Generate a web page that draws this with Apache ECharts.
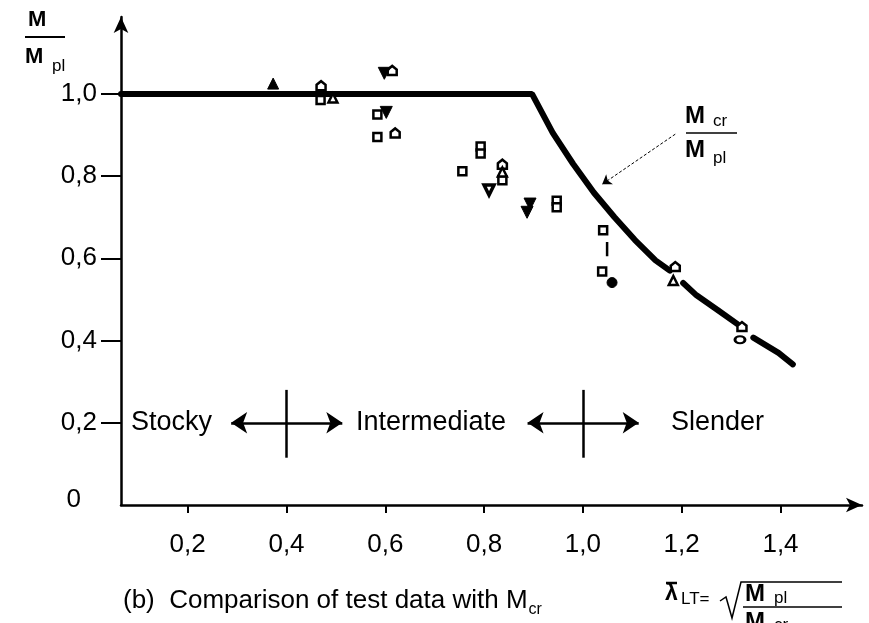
<!DOCTYPE html>
<html>
<head>
<meta charset="utf-8">
<script src="https://cdn.jsdelivr.net/npm/echarts@6/dist/echarts.min.js"></script>
<style>
html, body { margin: 0; padding: 0; background: #fff; }
#chart { width: 869px; height: 623px; }
</style>
</head>
<body>
<div id="chart"></div>
<script>
// x values are read against the printed 0,2 ... 1,4 labels
const xTicks = [0.2, 0.4, 0.6, 0.8, 1.0, 1.2, 1.4];
const yTicks = [0, 0.2, 0.4, 0.6, 0.8, 1.0];
const xMin = 0.065;
const xMax = 1.565;

// design curve: plateau at 1.0, then Mcr/Mpl; broken where test markers sit on it
const curveA = [[0.065, 1.0], [0.897, 1.0], [0.939, 0.905], [0.98, 0.83], [1.022, 0.76], [1.064, 0.70], [1.105, 0.645], [1.147, 0.595], [1.176, 0.57]];
const curveB = [[1.203, 0.54], [1.23, 0.51], [1.272, 0.475], [1.313, 0.44]];
const curveC = [[1.345, 0.407], [1.396, 0.37], [1.425, 0.342]];

// test results, grouped by marker
const openSquare = [[0.469, 0.985], [0.584, 0.95], [0.584, 0.895], [0.793, 0.872], [0.793, 0.855], [0.756, 0.812], [0.837, 0.79], [0.947, 0.74], [0.947, 0.724], [1.041, 0.668], [1.039, 0.568]];
const openHouse = [[0.47, 1.02], [0.614, 1.057], [0.62, 0.905], [0.837, 0.829], [1.187, 0.58], [1.322, 0.434]];
const openTriangle = [[0.494, 0.99], [0.837, 0.81], [1.183, 0.546]];
const filledDown = [[0.598, 1.05], [0.602, 0.955], [0.893, 0.732], [0.887, 0.712]];
const openDown = [[0.81, 0.766]];
const filledUp = [[0.373, 1.025]];
const filledCircle = [[1.059, 0.541]];
const openOval = [[1.318, 0.402]];
const rangeBar = [[1.049, 0.64], [1.049, 0.605]];

// stocky / intermediate / slender limits
const regionLimits = [0.4, 1.0];
const regionY = 0.2;

const INK = '#000';
const FONT = 'Liberation Sans, Arial, sans-serif';

const chart = echarts.init(document.getElementById('chart'));

function curve(data) {
    return {
        type: 'line', data: data, symbol: 'none', silent: true,
        lineStyle: { color: INK, width: 6, cap: 'round' }, z: 2
    };
}

function marks(data, symbol, size, filled, border) {
    return {
        type: 'scatter', data: data, symbol: symbol, symbolSize: size, z: 5,
        itemStyle: filled
            ? { color: INK, borderColor: INK, borderWidth: 1, opacity: 1 }
            : { color: '#fff', borderColor: INK, borderWidth: border || 2.5, opacity: 1 }
    };
}

const HOUSE = 'path://M0,4 L5,0 L10,4 L10,10 L0,10 Z';
const DOWN = 'path://M0,0 L10,0 L5,9 Z';

const regionLines = [];
regionLimits.forEach(function (v) {
    regionLines.push([
        { coord: [v - 0.112, regionY], symbol: 'arrow' },
        { coord: [v + 0.113, regionY], symbol: 'arrow' }
    ]);
    regionLines.push([
        { coord: [v, 0.28], symbol: 'none' },
        { coord: [v, 0.115], symbol: 'none' }
    ]);
});

chart.setOption({
    animation: false,
    grid: { left: 121, right: 7, top: 17, bottom: 118 },
    xAxis: {
        type: 'value', min: xMin, max: xMax,
        splitLine: { show: false },
        axisLine: { lineStyle: { color: INK, width: 2.5 }, symbol: ['none', 'arrow'], symbolSize: [11, 16] },
        axisTick: { customValues: xTicks, length: 8, lineStyle: { color: INK, width: 2 } },
        axisLabel: {
            customValues: xTicks, margin: 27, color: INK, fontSize: 26, fontFamily: FONT,
            formatter: function (v) { return v.toFixed(1).replace('.', ','); }
        }
    },
    yAxis: {
        type: 'value', min: 0, max: 1.187,
        splitLine: { show: false },
        axisLine: { lineStyle: { color: INK, width: 2.5 }, symbol: ['none', 'arrow'], symbolSize: [11, 16] },
        axisTick: { customValues: yTicks.slice(1), length: 20, lineStyle: { color: INK, width: 2 } },
        axisLabel: {
            customValues: yTicks, margin: 24, color: INK, fontSize: 26, fontFamily: FONT,
            formatter: function (v) { return v === 0 ? '{z|0}' : v.toFixed(1).replace('.', ','); },
            rich: { z: { fontSize: 26, fontFamily: FONT, color: INK, padding: [0, 16, 10, 0] } }
        }
    },
    series: [
        Object.assign(curve(curveA), {
            markLine: {
                silent: true, symbol: ['none', 'arrow'], symbolSize: 9,
                label: { show: false },
                lineStyle: { color: INK, width: 1, type: [3, 2] },
                data: [[{ coord: [1.187, 0.902] }, { coord: [1.039, 0.78] }]]
            }
        }),
        curve(curveB),
        curve(curveC),
        {
            type: 'line', data: rangeBar, symbol: 'none', silent: true,
            lineStyle: { color: INK, width: 2.5 }
        },
        marks(openSquare, 'rect', 8, false),
        marks(openHouse, HOUSE, 9, false),
        marks(openTriangle, 'triangle', 9, false),
        marks(filledDown, DOWN, 12, true),
        marks(openDown, DOWN, 10, false, 3.5),
        marks(filledUp, 'triangle', 11, true),
        marks(filledCircle, 'circle', 10, true),
        marks(openOval, 'circle', [10, 7], false),
        {
            type: 'line', data: [], silent: true,
            markLine: {
                silent: true, symbolSize: 16, label: { show: false },
                lineStyle: { color: INK, width: 2.5, type: 'solid' },
                data: regionLines
            }
        }
    ],
    graphic: [
        // y axis name M / Mpl
        { type: 'text', left: 28, top: 9, style: { text: 'M', font: 'bold 22px ' + FONT, fill: INK } },
        { type: 'line', shape: { x1: 25, y1: 37, x2: 65, y2: 37 }, style: { stroke: INK, lineWidth: 2 } },
        { type: 'text', left: 25, top: 46, style: { text: 'M', font: 'bold 22px ' + FONT, fill: INK } },
        { type: 'text', left: 52, top: 58, style: { text: 'pl', font: '17px ' + FONT, fill: INK } },
        // curve label Mcr / Mpl
        { type: 'text', left: 685, top: 104, style: { text: 'M', font: 'bold 24px ' + FONT, fill: INK } },
        { type: 'text', left: 713, top: 113, style: { text: 'cr', font: '17px ' + FONT, fill: INK } },
        { type: 'line', shape: { x1: 686, y1: 133, x2: 737, y2: 133 }, style: { stroke: INK, lineWidth: 1.5 } },
        { type: 'text', left: 685, top: 138, style: { text: 'M', font: 'bold 24px ' + FONT, fill: INK } },
        { type: 'text', left: 713, top: 150, style: { text: 'pl', font: '17px ' + FONT, fill: INK } },
        // region names
        { type: 'text', left: 131, top: 409, style: { text: 'Stocky', font: '27px ' + FONT, fill: INK } },
        { type: 'text', left: 356, top: 409, style: { text: 'Intermediate', font: '27px ' + FONT, fill: INK } },
        { type: 'text', left: 671, top: 409, style: { text: 'Slender', font: '27px ' + FONT, fill: INK } },
        // caption
        {
            type: 'text', left: 123, top: 588,
            style: {
                text: '{t|(b)  Comparison of test data with M}{s|cr}',
                rich: {
                    t: { font: '26px ' + FONT, fill: INK, verticalAlign: 'bottom' },
                    s: { font: '16px ' + FONT, fill: INK, verticalAlign: 'bottom', padding: [0, 0, -4, 1] }
                }
            }
        },
        // lambda definition
        { type: 'text', left: 665, top: 582, style: { text: 'λ', font: 'bold 23px ' + FONT, fill: INK } },
        { type: 'line', shape: { x1: 666, y1: 583, x2: 677, y2: 583 }, style: { stroke: INK, lineWidth: 2.5 } },
        { type: 'text', left: 681, top: 591, style: { text: 'LT=', font: '17px ' + FONT, fill: INK } },
        { type: 'polyline', shape: { points: [[720, 601], [726, 597], [732, 618], [741, 582], [842, 582]] }, style: { stroke: INK, lineWidth: 1.5, fill: null } },
        { type: 'text', left: 745, top: 582, style: { text: 'M', font: 'bold 24px ' + FONT, fill: INK } },
        { type: 'text', left: 774, top: 590, style: { text: 'pl', font: '17px ' + FONT, fill: INK } },
        { type: 'line', shape: { x1: 743, y1: 607, x2: 842, y2: 607 }, style: { stroke: INK, lineWidth: 1.5 } },
        { type: 'text', left: 745, top: 610, style: { text: 'M', font: 'bold 24px ' + FONT, fill: INK } },
        { type: 'text', left: 774, top: 617, style: { text: 'cr', font: '17px ' + FONT, fill: INK } }
    ]
});

window.addEventListener('resize', function () { chart.resize(); });
</script>
</body>
</html>
